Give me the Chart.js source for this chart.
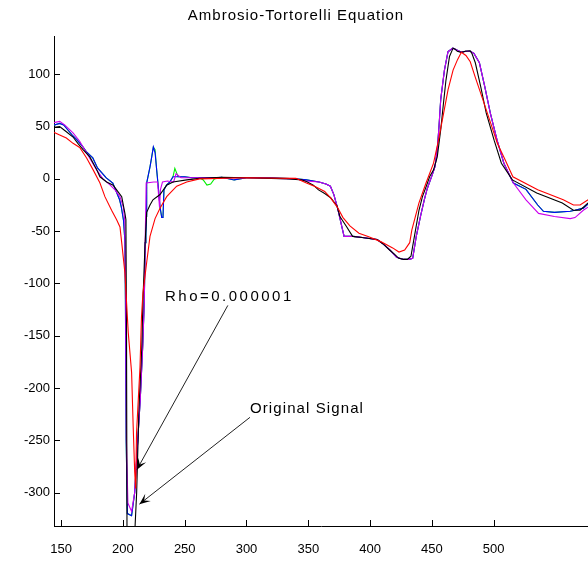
<!DOCTYPE html>
<html lang="en">
<head>
<meta charset="UTF-8">
<title>Ambrosio-Tortorelli Equation</title>
<script src="https://cdn.jsdelivr.net/npm/chart.js"></script>
<style>
    body { margin: 0; background: #fff; }
    #wrap { width: 588px; height: 561px; }
</style>
</head>
<body>
<div id="wrap"><canvas id="chart" width="588" height="561"></canvas></div>
<script>
// tick labels
const xTicks = [150, 200, 250, 300, 350, 400, 450, 500];
const yTicks = [-300, -250, -200, -150, -100, -50, 0, 50, 100];

// original signal (black)
const blackX = [143, 148.8, 154.2, 159.6, 163.5, 167.7, 173.2, 178.7, 181.4, 186.8,
    192.1, 194.9, 199, 201.6, 202.4, 202.9, 203.3, 205, 208, 209.7,
    211.1, 213, 215.2, 216.2, 217.8, 219.2, 221.9, 224.3, 230, 235.4,
    240.5, 251.6, 262, 280, 300, 320, 335, 344.8, 348.5, 354.1,
    358.3, 363.3, 368.1, 373.3, 375.6, 380.9, 385.9, 393.4, 399.4, 405.6,
    410.4, 415.8, 419.7, 423.3, 427.1, 430.2, 433.1, 435.9, 439.6, 442.4,
    445.5, 448.2, 451.4, 454.4, 457.2, 459.4, 461.4, 464.3, 467.2, 468.9,
    470.6, 473.9, 477.2, 481.0, 482.4, 485.2, 489.6, 494, 500.4, 506.3,
    515.2, 534.9, 555.6, 564.6, 570.0, 576.5];
const blackY = [49, 50, 45, 40, 34, 28, 21, 9, 2, -3,
    -6, -10.5, -17, -33, -39, -150, -345, -350, -350, -335,
    -300, -218, -163, -116, -65, -32, -25, -20, -15, -6,
    -3, -1, 0.5, 1.5, 1, 0.5, 0, -1, -2.5, -6,
    -10.5, -14, -18, -26, -36, -45.5, -55, -56, -57, -58,
    -62, -68, -72, -76, -77, -77, -74, -55, -30, -17,
    -7, 2, 8.6, 21, 47, 72, 94, 117, 125, 124,
    122, 121, 122, 122.5, 120, 111, 88, 63, 37, 15,
    -1, -13.6, -23, -30, -30, -23];

// Rho=0.000001 (red)
const redX = [143, 148.8, 154.2, 159.6, 165, 170.6, 175.9, 181.4, 185.4, 190.8,
    194.9, 197.6, 199, 201.6, 204.3, 207, 208.3, 209.5, 210.3, 211,
    213.8, 215, 216.2, 219.2, 221.9, 226, 230, 235.4, 243.5, 251.6,
    262, 300, 340, 348.5, 355.9, 363.3, 367.9, 373.5, 378.1, 383.7,
    391.0, 398.4, 408.6, 418.3, 423.4, 428, 432.1, 433.8, 439.6, 445.3,
    451.4, 455.4, 459.6, 463.1, 467.2, 470.8, 473.9, 477.6, 481.1, 485.2,
    491.5, 497.7, 503.0, 509.4, 515.6, 535.7, 556.4, 564.6, 570.0, 576.5];
const redY = [45, 42, 39, 34, 30, 20, 8.6, -4, -17, -30,
    -39, -46, -61, -90, -147, -185, -237, -280, -296, -243,
    -180, -132, -109, -80, -55, -38, -28, -17, -7, -3,
    0, 1, 0.5, -4, -7.6, -12, -18, -27, -37, -45,
    -52, -55, -60, -66, -70, -68, -61, -49, -23, -4,
    15, 37, 63, 85, 104, 114, 121, 118, 112, 97,
    75, 53, 34, 18, 2, -10.5, -20, -25, -25, -20];

// magenta run
const magX = [143, 148.8, 152.8, 159.6, 165, 170, 174, 178.7, 183.8, 189.5,
    193.6, 197.6, 200.3, 201.5, 202.2, 202.8, 204, 207, 209.5, 212,
    214, 216, 217.3, 218, 218.8, 225, 228, 229.6, 230.4, 232,
    236, 241, 243, 245, 247, 255, 262, 300, 340, 348.5,
    358.7, 364.3, 367.9, 370.7, 373.5, 375.3, 377.2, 379.0, 386.4, 393.8,
    399.4, 405.8, 410.4, 416.0, 421.5, 427.1, 431.6, 434.5, 437.4, 441.0,
    443.9, 446.1, 448.2, 450.4, 452.6, 454.4, 455.8, 457.2, 460.2, 463.1,
    467.0, 470.6, 474.0, 477.2, 481.1, 484.1, 488.5, 492.9, 497.3, 502.8,
    508.3, 512.7, 516, 526.2, 536.4, 549.2, 562, 565.9, 572.6, 576.5];
const magY = [53.5, 55, 51.6, 44, 36, 26, 18, 8.6, 0, -5.7,
    -10.5, -17, -27, -40, -116, -250, -310, -318, -300, -250,
    -211, -160, -116, -60, -4, -3, -3, -27, -10, -3,
    -2, -3, 5, 3, 1, 1, 1, 1, 0, -2,
    -3, -5, -7, -15, -27, -36, -46, -55, -55, -56,
    -57, -58, -62, -68, -75, -77, -77, -76, -55, -35,
    -20, -10, -3, 4, 12, 28, 50, 76, 104, 121.6,
    125, 123, 121, 122, 122, 120, 111, 88, 63, 37,
    15, 4, -4, -20, -33, -36, -38, -37, -30, -27];

// blue and green runs share their x samples
const bgX = [143, 148.8, 152, 159.6, 163, 167.7, 170.3, 175.6, 179.4, 186.5,
    191.8, 194.5, 197.3, 198.7, 200.5, 201.6, 202, 202.6, 203.6, 207,
    209.5, 212, 214, 216, 217.3, 218, 218.6, 219, 219.2, 221.9,
    223.3, 224.6, 226, 227.3, 228.6, 230, 231.4, 232.4, 233.2, 235.4,
    238, 240.5, 242, 244.6, 250, 256, 262, 265, 268, 271,
    274, 280, 290, 300, 320, 340, 348.5, 358.7, 364.3, 367.9,
    370.7, 373.5, 375.3, 377.2, 379.0, 386.4, 393.8, 399.4, 405.8, 410.4,
    416.0, 421.5, 427.1, 431.6, 434.5, 437.4, 441.0, 443.9, 446.1, 448.2,
    450.4, 452.6, 454.4, 455.8, 457.2, 460.2, 463.1, 467.0, 470.6, 474.0,
    477.2, 481.1, 484.1, 488.5, 492.9, 497.3, 502.8, 508.3, 512.7, 516,
    526.2, 535.7, 540.3, 549.2, 562, 565.9, 572.6, 576.5];
const blueY = [51, 53, 51.6, 41, 37, 30.5, 26, 20, 10.5, 1,
    -4, -12, -20, -27, -40, -60, -115, -250, -320, -322,
    -300, -250, -211, -160, -116, -61, -52, -36, -4, 11.5,
    21, 30.5, 25, 8.6, -7.6, -26.7, -37, -37, -10.5, -5.7,
    -3, 2, 2, 2, 2, 1, 1, 1, 1, 1,
    1, 1.5, -1, 1, 1, 0, -1, -3, -5, -7,
    -15, -27, -36, -46, -55, -55, -56, -57, -58, -62,
    -68, -75, -77, -77, -76, -55, -35, -20, -10, -3,
    4, 12, 28, 50, 76, 104, 121.6, 125, 123, 121,
    122, 122, 120, 111, 88, 63, 37, 15, 4, -4,
    -10, -25, -31, -32, -31, -30, -28, -24];
const greenY = [51, 53, 51.6, 41, 37, 30.5, 26, 20, 10.5, 1,
    -4, -12, -20, -27, -40, -60, -115, -250, -320, -322,
    -300, -250, -211, -160, -116, -61, -52, -36, -4, 11.5,
    21, 30.5, 28, 8.6, -7.6, -26.7, -37, -37, -10.5, -5.7,
    -3, 2, 10, 2, 2, 1, 1, -1, -6, -5,
    0, 1.5, -1, 1, 1, 0, -1, -3, -5, -7,
    -15, -27, -36, -46, -55, -55, -56, -57, -58, -62,
    -68, -75, -77, -77, -76, -55, -35, -20, -10, -3,
    4, 12, 28, 50, 76, 104, 121.6, 125, 123, 121,
    122, 122, 120, 111, 88, 63, 37, 15, 4, -4,
    -10, -25, -31, -32, -31, -30, -28, -24];

const title = 'Ambrosio-Tortorelli Equation';

// text arrows, in data units: where the text sits, where the arrow starts and ends
const notes = [
    { text: 'Rho=0.000001', tx: 234.0, ty: -113, fx: 284.9, fy: -121, ax: 211.3, ay: -278, spacing: 2.5 },
    { text: 'Original Signal', tx: 302.8, ty: -220, fx: 302.8, fy: -228, ax: 213.3, ay: -311, spacing: 1.1 }
];

function pts(xs, ys) {
    return xs.map((x, i) => ({ x: x, y: ys[i] }));
}

function drawArrow(ctx, x0, y0, x1, y1) {
    ctx.beginPath();
    ctx.moveTo(x0, y0);
    ctx.lineTo(x1, y1);
    ctx.stroke();
    // notched head, like matlab's default
    const a = Math.atan2(y1 - y0, x1 - x0);
    const c = Math.cos(a), s = Math.sin(a);
    const len = 11, half = 4.5, notch = 6;
    ctx.beginPath();
    ctx.moveTo(x1, y1);
    ctx.lineTo(x1 - len * c - half * s, y1 - len * s + half * c);
    ctx.lineTo(x1 - notch * c, y1 - notch * s);
    ctx.lineTo(x1 - len * c + half * s, y1 - len * s - half * c);
    ctx.closePath();
    ctx.fill();
}

const matlabLook = {
    id: 'matlabLook',
    afterDraw(chart) {
        const ctx = chart.ctx;
        const area = chart.chartArea;
        const xs = chart.scales.x, ys = chart.scales.y;
        ctx.save();
        ctx.strokeStyle = '#000';
        ctx.fillStyle = '#000';
        ctx.lineWidth = 1;

        // inward tick marks
        ctx.beginPath();
        xTicks.forEach(v => {
            const px = Math.round(xs.getPixelForValue(v)) + 0.5;
            ctx.moveTo(px, area.bottom);
            ctx.lineTo(px, area.bottom - 6);
        });
        yTicks.forEach(v => {
            const py = Math.round(ys.getPixelForValue(v)) + 0.5;
            ctx.moveTo(area.left, py);
            ctx.lineTo(area.left + 6, py);
        });
        ctx.stroke();

        // title
        ctx.font = '15px "Liberation Sans"';
        ctx.letterSpacing = '1px';
        ctx.textAlign = 'center';
        ctx.textBaseline = 'middle';
        ctx.fillText(title, 296, 16);

        // arrows with their labels
        ctx.textAlign = 'left';
        notes.forEach(n => {
            ctx.strokeStyle = '#222';
            drawArrow(ctx, xs.getPixelForValue(n.fx), ys.getPixelForValue(n.fy),
                xs.getPixelForValue(n.ax), ys.getPixelForValue(n.ay));
            ctx.letterSpacing = n.spacing + 'px';
            ctx.fillText(n.text, xs.getPixelForValue(n.tx), ys.getPixelForValue(n.ty));
        });
        ctx.restore();
    }
};

const tickFont = { family: 'Liberation Sans', size: 13 };

new Chart(document.getElementById('chart'), {
    type: 'line',
    data: {
        datasets: [
            { label: 'Rho=0.000001', data: pts(redX, redY), borderColor: '#ff0000' },
            { label: 'Original Signal', data: pts(blackX, blackY), borderColor: '#000000' },
            { label: 'magenta', data: pts(magX, magY), borderColor: '#cc00ee' },
            { label: 'blue', data: pts(bgX, blueY), borderColor: '#0000ff' },
            { label: 'green', data: pts(bgX, greenY), borderColor: '#00ee00' }
        ]
    },
    options: {
        responsive: false,
        animation: false,
        events: [],
        elements: {
            point: { radius: 0 },
            line: { borderWidth: 1.1, tension: 0, fill: false }
        },
        layout: { padding: { top: 36, right: 0, left: 0, bottom: 0 } },
        plugins: {
            legend: { display: false },
            tooltip: { enabled: false },
            title: { display: false }
        },
        scales: {
            x: {
                type: 'linear',
                min: 144.2,
                max: 576.4,
                afterBuildTicks: s => { s.ticks = xTicks.map(v => ({ value: v })); },
                afterFit: s => { s.height = 35; },
                grid: { display: false, drawTicks: false },
                border: { display: true, color: '#000', width: 1 },
                ticks: { color: '#000', font: tickFont, padding: 16, maxRotation: 0, autoSkip: false }
            },
            y: {
                type: 'linear',
                min: -331.9,
                max: 136.6,
                afterBuildTicks: s => { s.ticks = yTicks.map(v => ({ value: v })); },
                afterFit: s => { s.width = 54; },
                grid: { display: false, drawTicks: false },
                border: { display: true, color: '#000', width: 1 },
                ticks: { color: '#000', font: tickFont, padding: 4, autoSkip: false }
            }
        }
    },
    plugins: [matlabLook]
});
</script>
</body>
</html>
